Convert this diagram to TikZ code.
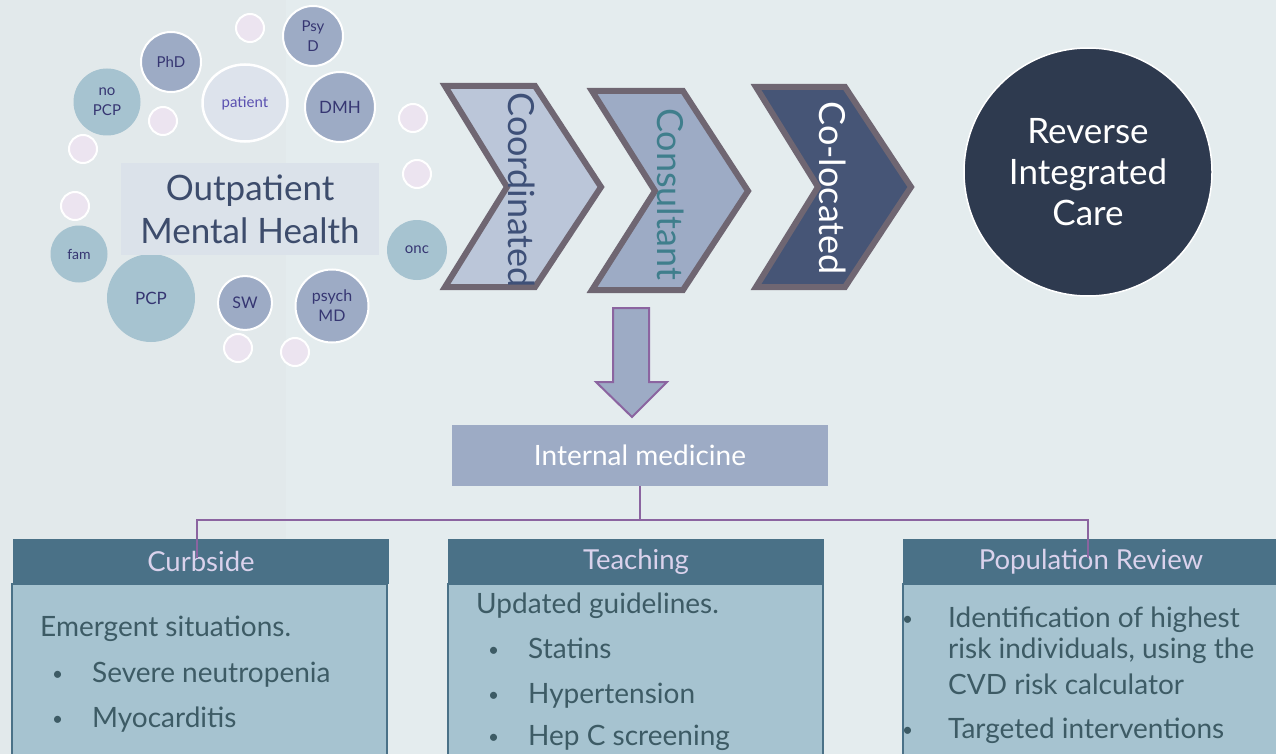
\documentclass[tikz,border=0pt]{standalone}
\usepackage{fontspec}
\setmainfont{Lato}
\usetikzlibrary{shapes.geometric}

\definecolor{bgmain}{HTML}{E4ECEE}
\definecolor{bgside}{HTML}{E2E9EB}
\definecolor{bubblue}{HTML}{9DABC5}
\definecolor{bubteal}{HTML}{A6C3D0}
\definecolor{bubpink}{HTML}{ECE4F0}
\definecolor{bubtext}{HTML}{363672}
\definecolor{pattext}{HTML}{5A50B0}
\definecolor{patfill}{HTML}{DDE3EC}
\definecolor{omhfill}{HTML}{DBE2EA}
\definecolor{omhtext}{HTML}{3D4C6C}
\definecolor{chevline}{HTML}{6F6672}
\definecolor{chevA}{HTML}{BBC6D9}
\definecolor{chevC}{HTML}{465576}
\definecolor{chevtextA}{HTML}{3E5078}
\definecolor{chevtextB}{HTML}{3F7E8C}
\definecolor{ricfill}{HTML}{2E3A4F}
\definecolor{linkline}{HTML}{8B64A0}
\definecolor{headfill}{HTML}{4A7187}
\definecolor{headtext}{HTML}{DAD2EC}
\definecolor{bodytext}{HTML}{3D5B65}

\tikzset{
  bub/.style={circle, draw=white, line width=2pt, fill=bubblue, text=bubtext, align=center, inner sep=0pt, font=\fontsize{15}{20}\selectfont},
  tbub/.style={circle, fill=bubteal, text=bubtext, align=center, inner sep=0pt, font=\fontsize{15}{20}\selectfont},
  dot/.style={circle, draw=white, line width=2pt, fill=bubpink, minimum size=28pt, inner sep=0pt},
  chev/.style={draw=chevline, line width=6pt, line join=miter},
  chevtext/.style={rotate=-90, inner sep=0pt, font=\fontsize{36}{40}\selectfont},
  head/.style={rectangle, fill=headfill, text=headtext, minimum width=376pt, minimum height=45pt, inner sep=0pt, font=\fontsize{27.5}{30}\selectfont},
  body/.style={fill=bubteal, draw=headfill, line width=1.5pt},
  btext/.style={anchor=base west, inner sep=0pt, text=bodytext, font=\fontsize{28}{32}\selectfont},
  bul/.style={btext, yshift=2pt, font=\fontsize{19}{22}\selectfont},
  link/.style={draw=linkline, line width=2pt}
}

\begin{document}
\begin{tikzpicture}[x=1pt, y=-1pt]
  \fill[bgmain] (0,0) rectangle (1276,754);
  \fill[bgside] (0,0) rectangle (286,754);
  \useasboundingbox (0,0) rectangle (1276,754);

  % small dots round the cluster
  \foreach \px/\py [count=\i] in {250/28, 163/121, 83/149, 413/118, 417/174, 75/206, 238/348, 295/352}
    \node[dot] (d\i) at (\px,\py) {};

  % care team bubbles
  \node[bub, minimum size=60pt] (PhD) at (171,62) {PhD};
  \node[bub, minimum size=60pt] (PsyD) at (313,36) {Psy\\D};
  \node[bub, minimum size=70pt, font=\fontsize{17}{20}\selectfont] (DMH) at (340,107) {DMH};
  \node[bub, minimum size=54pt, font=\fontsize{16}{20}\selectfont] (SW) at (245,303) {SW};
  \node[bub, minimum size=73pt, font=\fontsize{16}{20}\selectfont] (psychMD) at (332,306) {psych\\MD};
  \node[tbub, minimum size=67pt] (noPCP) at (107,102) {no\\PCP};
  \node[tbub, minimum size=57pt, font=\fontsize{14}{18}\selectfont] (fam) at (79,254) {fam};
  \node[tbub, minimum size=88pt, font=\fontsize{17}{20}\selectfont] (PCP) at (151,298) {PCP};
  \node[tbub, minimum size=60pt] (onc) at (417,250) {onc};
  \node[ellipse, draw=white, line width=2.5pt, fill=patfill, text=pattext, minimum width=85pt, minimum height=77pt, inner sep=0pt, font=\fontsize{15}{18}\selectfont] (pat) at (245,103) {patient};

  \node[fill=omhfill, text=omhtext, minimum width=258pt, minimum height=92pt, align=center, font=\fontsize{35}{43}\selectfont] (OMH) at (250,209) {Outpatient\\Mental Health};

  % chevrons
  \draw[chev, fill=chevA] (445,86) -- (535,86) -- (601,187) -- (535,287) -- (445,287) -- (507,187) -- cycle;
  \node[chevtext, text=chevtextA] (coord) at (522,190) {Coordinated};
  \draw[chev, fill=bubblue] (592,91) -- (683,91) -- (748,191) -- (683,290) -- (592,290) -- (655,191) -- cycle;
  \node[chevtext, text=chevtextB] (consult) at (671,194) {Consultant};
  \draw[chev, fill=chevC] (756,87) -- (845,87) -- (911,187) -- (845,287) -- (756,287) -- (818,187) -- cycle;
  \node[chevtext, text=white] (coloc) at (833,188) {Co-located};

  \node[circle, draw=white, line width=1.5pt, fill=ricfill, text=white, minimum size=248pt, align=center, font=\fontsize{35}{41}\selectfont] (RIC) at (1088,172) {Reverse\\Integrated\\Care};

  % block arrow down
  \draw[link, fill=bubblue, line join=miter] (613,308) -- (649,308) -- (649,382) -- (667,382) -- (632,417) -- (596,382) -- (613,382) -- cycle;

  \node[fill=bubblue, text=white, minimum width=376pt, minimum height=61pt, font=\fontsize{28}{30}\selectfont] (IM) at (640,455.5) {Internal medicine};

  % three columns
  \draw[body] (12,584) rectangle (387,770);
  \node[head] (CB) at (201,561.5) {Curbside};
  \draw[body] (448,584) rectangle (823,770);
  \node[head] (TE) at (636,561.5) {Teaching};
  \draw[body] (903,584) rectangle (1280,770);
  \node[head] (PR) at (1091,561.5) {Population Review};

  \node[btext] (cb0) at (40,636) {Emergent situations.};
  \node[bul] (cb1b) at (52,682) {\textbullet};
  \node[btext] (cb1) at (92,682) {Severe neutropenia};
  \node[bul] (cb2b) at (52,727) {\textbullet};
  \node[btext] (cb2) at (92,727) {Myocarditis};

  \node[btext] (te0) at (476,613) {Updated guidelines.};
  \node[bul] (te1b) at (488,658) {\textbullet};
  \node[btext] (te1) at (528,658) {Statins};
  \node[bul] (te2b) at (488,703) {\textbullet};
  \node[btext] (te2) at (528,703) {Hypertension};
  \node[bul] (te3b) at (488,745) {\textbullet};
  \node[btext] (te3) at (528,745) {Hep C screening};

  \node[bul] (pr1b) at (902,627) {\textbullet};
  \node[btext] (pr1) at (948,627) {Identification of highest};
  \node[btext] (pr2) at (948,658) {risk individuals, using the};
  \node[btext] (pr3) at (948,694) {CVD risk calculator};
  \node[bul] (pr4b) at (902,738) {\textbullet};
  \node[btext] (pr4) at (948,738) {Targeted interventions};

  % connectors to the columns
  \coordinate (cbend) at (197,558);
  \coordinate (prend) at (1088,558);
  \draw[link] (IM.south) -- ++(0,34) coordinate (fork);
  \draw[link] (fork) -| (cbend);
  \draw[link] (fork) -| (prend);
\end{tikzpicture}
\end{document}
